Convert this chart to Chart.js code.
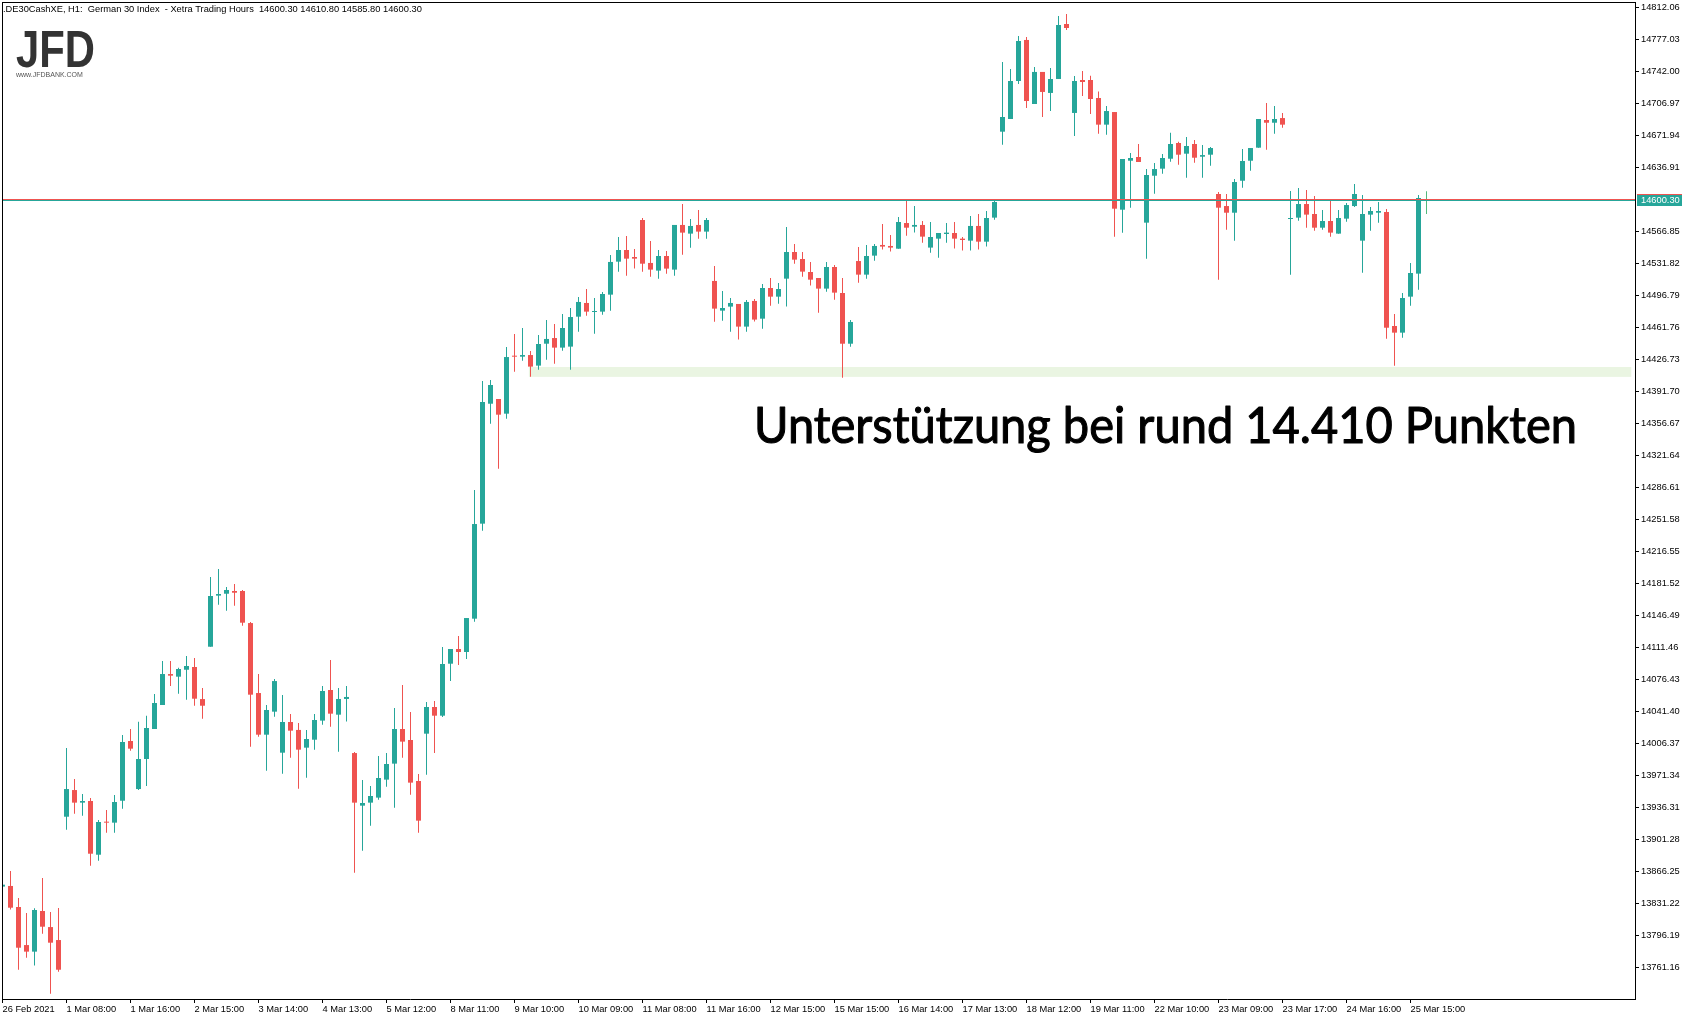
<!DOCTYPE html>
<html>
<head>
<meta charset="utf-8">
<script src="https://cdn.jsdelivr.net/npm/chart.js@4.4.1/dist/chart.umd.min.js"></script>
<style>
    html, body { margin: 0; padding: 0; background: #fff; }
    #wrap { width: 1693px; height: 1020px; }
</style>
</head>
<body>
<div id="wrap"><canvas id="chart" width="1693" height="1020"></canvas></div>
<script>
// DE30 H1 candles, 26 Feb - 25 Mar 2021
const opens = [
    13849.5, 13850.2, 13827.2, 13785.5, 13778.3, 13822.8, 13805.2, 13791.0, 13926.0, 13955.2,
    13941.4, 13943.2, 13884.4, 13920.2, 13919.5, 13943.5, 14008.9, 13956.3, 13989.2, 14022.0,
    14048.3, 14082.2, 14079.3, 14086.9, 14089.9, 14054.8, 14112.1, 14168.0, 14170.1, 14173.1,
    14173.1, 14138.0, 14061.4, 14015.8, 14041.0, 13996.1, 14029.7, 14021.0, 14001.6, 14010.3,
    14031.2, 14064.7, 14037.7, 14054.9, 13995.7, 13938.1, 13941.4, 13946.9, 13966.6, 13984.1,
    14022.0, 14010.0, 13965.1, 14016.9, 14046.1, 14036.6, 14093.5, 14109.6, 14106.3, 14142.8,
    14246.8, 14378.1, 14383.3, 14367.2, 14430.3, 14429.6, 14431.4, 14419.8, 14443.8, 14450.0,
    14439.5, 14440.6, 14473.4, 14488.4, 14478.5, 14478.9, 14497.5, 14533.6, 14546.4, 14538.7,
    14579.2, 14532.2, 14523.8, 14539.8, 14524.9, 14573.8, 14564.3, 14573.8, 14566.5, 14512.5,
    14480.0, 14484.4, 14487.3, 14462.5, 14490.6, 14471.2, 14504.8, 14495.3, 14515.0, 14544.2,
    14536.5, 14522.3, 14515.7, 14504.1, 14527.8, 14499.3, 14443.8, 14534.3, 14519.4, 14540.2,
    14551.9, 14550.8, 14547.8, 14575.9, 14571.9, 14573.8, 14549.0, 14558.8, 14563.9, 14565.0,
    14558.8, 14556.6, 14572.7, 14555.5, 14581.8, 14675.9, 14689.8, 14731.4, 14776.3, 14706.2,
    14741.3, 14718.3, 14733.6, 14793.8, 14696.4, 14732.5, 14732.5, 14712.8, 14683.6, 14697.4,
    14590.5, 14644.1, 14648.2, 14576.3, 14627.7, 14635.4, 14646.3, 14663.5, 14651.8, 14662.4,
    14648.5, 14650.7, 14607.7, 14594.5, 14587.2, 14622.2, 14644.1, 14658.4, 14688.7, 14685.7,
    14690.8, 14580.3, 14581.8, 14596.7, 14585.8, 14570.8, 14578.1, 14564.3, 14580.7, 14594.5,
    14556.6, 14585.1, 14587.2, 14588.0, 14463.2, 14455.9, 14495.3, 14520.5, 14600.3
];
const highs = [
    13853.0, 13866.6, 13837.0, 13820.6, 13825.7, 13858.9, 13821.7, 13826.0, 14001.2, 13967.3,
    13950.8, 13946.5, 13922.4, 13933.3, 13949.7, 14015.4, 14022.0, 14030.0, 14036.6, 14060.3,
    14096.4, 14096.4, 14089.1, 14101.9, 14099.7, 14066.9, 14188.4, 14197.1, 14177.4, 14180.7,
    14174.2, 14139.1, 14082.2, 14048.3, 14076.7, 14059.2, 14038.4, 14028.6, 14021.0, 14038.4,
    14069.1, 14097.6, 14066.9, 14069.1, 13996.9, 13966.2, 13959.6, 13992.5, 13995.7, 14045.0,
    14070.2, 14040.6, 13972.8, 14051.6, 14052.7, 14111.8, 14109.6, 14123.8, 14143.5, 14283.6,
    14402.9, 14404.1, 14383.3, 14440.2, 14454.4, 14461.0, 14435.8, 14453.3, 14469.7, 14465.4,
    14476.3, 14482.9, 14494.9, 14503.7, 14493.8, 14500.4, 14540.9, 14560.6, 14561.7, 14547.5,
    14581.4, 14556.2, 14546.4, 14545.3, 14573.8, 14596.7, 14580.3, 14590.2, 14581.4, 14528.9,
    14501.5, 14493.8, 14487.3, 14491.7, 14492.7, 14509.2, 14515.7, 14510.3, 14571.6, 14553.0,
    14544.2, 14533.3, 14515.7, 14533.3, 14530.0, 14515.7, 14469.7, 14549.7, 14551.9, 14553.0,
    14574.8, 14562.8, 14582.5, 14601.9, 14594.6, 14578.1, 14577.1, 14565.0, 14576.0, 14577.1,
    14560.6, 14583.6, 14585.8, 14589.1, 14600.0, 14752.2, 14744.5, 14780.7, 14779.6, 14746.7,
    14741.3, 14745.6, 14802.6, 14804.7, 14736.9, 14742.3, 14737.0, 14720.0, 14704.0, 14697.4,
    14646.0, 14652.5, 14662.4, 14635.0, 14641.6, 14651.4, 14674.8, 14664.9, 14670.0, 14666.8,
    14661.3, 14659.1, 14609.9, 14607.7, 14624.1, 14656.9, 14658.0, 14689.8, 14707.3, 14704.0,
    14696.3, 14610.9, 14614.2, 14612.0, 14605.5, 14590.2, 14600.0, 14590.2, 14597.8, 14618.6,
    14606.6, 14593.5, 14598.9, 14591.2, 14476.3, 14499.3, 14532.1, 14606.6, 14610.8
];
const lows = [
    13848.0, 13824.3, 13758.5, 13771.7, 13763.0, 13797.9, 13732.3, 13756.3, 13911.8, 13929.3,
    13927.1, 13872.4, 13877.9, 13908.5, 13908.5, 13934.8, 13998.3, 13955.2, 13959.6, 14022.0,
    14048.3, 14069.1, 14060.7, 14054.1, 14047.5, 14033.3, 14112.1, 14158.1, 14151.5, 14157.0,
    14135.1, 14002.7, 14013.6, 13976.4, 14035.5, 13973.1, 13990.6, 13956.7, 13968.7, 13999.4,
    14026.8, 14024.6, 13997.2, 14030.1, 13864.8, 13888.8, 13916.2, 13944.7, 13958.9, 13935.9,
    13990.6, 13950.1, 13908.5, 13972.0, 13995.8, 14035.2, 14074.6, 14092.1, 14098.6, 14139.5,
    14239.1, 14356.3, 14307.0, 14361.7, 14413.2, 14425.2, 14407.7, 14415.4, 14426.3, 14421.9,
    14436.2, 14415.4, 14457.0, 14474.5, 14454.8, 14475.6, 14480.0, 14522.7, 14518.3, 14526.0,
    14522.7, 14517.2, 14515.0, 14520.5, 14518.3, 14541.3, 14548.9, 14558.8, 14558.8, 14467.9,
    14469.0, 14457.0, 14448.3, 14457.0, 14468.0, 14460.3, 14485.4, 14487.6, 14484.4, 14531.4,
    14517.2, 14507.4, 14477.8, 14500.8, 14492.0, 14406.6, 14440.6, 14510.6, 14515.0, 14534.7,
    14546.8, 14544.6, 14547.8, 14562.1, 14565.4, 14554.4, 14543.5, 14538.0, 14554.4, 14547.9,
    14545.7, 14545.7, 14546.8, 14550.1, 14579.6, 14661.7, 14689.8, 14728.1, 14701.8, 14706.2,
    14692.0, 14698.6, 14733.6, 14787.2, 14671.2, 14715.0, 14695.2, 14673.7, 14672.6, 14560.9,
    14565.3, 14592.7, 14642.7, 14536.9, 14608.0, 14629.9, 14643.0, 14639.8, 14625.5, 14642.0,
    14625.5, 14638.7, 14513.9, 14568.6, 14556.6, 14614.6, 14633.2, 14658.4, 14656.2, 14673.7,
    14680.3, 14519.4, 14578.5, 14570.8, 14567.5, 14568.6, 14561.0, 14564.3, 14577.4, 14593.5,
    14521.6, 14567.5, 14576.3, 14449.3, 14419.8, 14450.4, 14485.4, 14503.0, 14585.8
];
const closes = [
    13851.6, 13826.4, 13782.6, 13778.3, 13823.9, 13805.6, 13788.1, 13758.5, 13956.3, 13941.4,
    13943.2, 13885.5, 13920.2, 13919.5, 13942.1, 14007.8, 14000.5, 13989.2, 14023.1, 14050.5,
    14082.2, 14080.4, 14087.7, 14091.0, 14055.2, 14047.5, 14167.6, 14169.8, 14174.2, 14171.2,
    14138.4, 14059.6, 14015.8, 14042.8, 14074.5, 14029.7, 14020.2, 13999.4, 14011.1, 14031.9,
    14063.6, 14038.8, 14054.9, 14057.1, 13941.4, 13941.0, 13948.7, 13968.4, 13983.7, 14022.0,
    14008.2, 13963.3, 13921.7, 14046.1, 14036.6, 14093.2, 14109.6, 14106.3, 14143.5, 14246.4,
    14380.0, 14398.6, 14366.1, 14429.2, 14429.6, 14431.4, 14418.7, 14443.5, 14449.0, 14439.5,
    14461.0, 14473.0, 14489.5, 14478.9, 14479.6, 14498.2, 14533.3, 14546.4, 14536.9, 14536.9,
    14531.4, 14524.9, 14539.8, 14526.0, 14573.8, 14565.4, 14572.7, 14566.5, 14579.2, 14482.2,
    14482.9, 14488.4, 14462.5, 14489.5, 14470.2, 14504.8, 14495.3, 14503.7, 14544.2, 14535.8,
    14522.7, 14513.9, 14504.1, 14527.8, 14499.7, 14443.8, 14467.6, 14519.4, 14539.8, 14550.8,
    14550.1, 14549.0, 14577.0, 14570.8, 14573.8, 14561.0, 14560.6, 14565.0, 14565.4, 14558.8,
    14557.3, 14572.7, 14555.5, 14581.4, 14598.9, 14692.0, 14731.4, 14775.2, 14709.5, 14741.3,
    14719.4, 14733.6, 14792.7, 14789.4, 14731.4, 14730.3, 14711.7, 14683.6, 14698.5, 14591.6,
    14646.0, 14647.1, 14642.7, 14628.5, 14635.0, 14647.1, 14662.4, 14650.7, 14660.2, 14647.4,
    14650.3, 14658.0, 14592.7, 14587.2, 14620.8, 14643.8, 14658.0, 14689.8, 14685.7, 14689.8,
    14683.6, 14581.4, 14596.7, 14585.1, 14570.8, 14578.1, 14565.4, 14581.4, 14595.6, 14607.7,
    14585.8, 14589.1, 14589.1, 14461.3, 14455.9, 14493.8, 14521.2, 14603.3, 14600.3
];

// one label every 8 bars
const xTickLabels = [
    '26 Feb 2021', '1 Mar 08:00', '1 Mar 16:00', '2 Mar 15:00', '3 Mar 14:00', '4 Mar 13:00',
    '5 Mar 12:00', '8 Mar 11:00', '9 Mar 10:00', '10 Mar 09:00', '11 Mar 08:00', '11 Mar 16:00',
    '12 Mar 15:00', '15 Mar 15:00', '16 Mar 14:00', '17 Mar 13:00', '18 Mar 12:00', '19 Mar 11:00',
    '22 Mar 10:00', '23 Mar 09:00', '23 Mar 17:00', '24 Mar 16:00', '25 Mar 15:00'
];
const yTicks = [
    13761.16, 13796.19, 13831.22, 13866.25, 13901.28, 13936.31, 13971.34, 14006.37, 14041.40,
    14076.43, 14111.46, 14146.49, 14181.52, 14216.55, 14251.58, 14286.61, 14321.64, 14356.67,
    14391.70, 14426.73, 14461.76, 14496.79, 14531.82, 14566.85, 14636.91, 14671.94, 14706.97,
    14742.00, 14777.03, 14812.06
];

const bidPrice = 14600.30;
const supportZone = [14407.5, 14418.3];
const supportBars = [65.8, 203.6];

const headerText = '.DE30CashXE, H1:  German 30 Index  - Xetra Trading Hours  14600.30 14610.80 14585.80 14600.30';
const noteText = 'Unterst\u00fctzung bei rund 14.410 Punkten';

const UP = '#26a69a';
const DOWN = '#ef5350';
const DOJI = '#52b97c';
const FAMILY = 'Liberation Sans, Arial, sans-serif';
const AXIS_FONT = { family: FAMILY, size: 9.3 };

function candleColor(i) {
    if (closes[i] === opens[i]) return DOJI;
    return closes[i] > opens[i] ? UP : DOWN;
}

const overlay = {
    id: 'overlay',
    beforeDatasetsDraw(chart) {
        const { ctx, scales: { x, y } } = chart;
        const x0 = x.getPixelForValue(supportBars[0]);
        const x1 = x.getPixelForValue(supportBars[1]);
        const yTop = y.getPixelForValue(supportZone[1]);
        const yBot = y.getPixelForValue(supportZone[0]);
        ctx.save();
        ctx.fillStyle = '#eaf5e2';
        ctx.fillRect(x0, yTop, x1 - x0, yBot - yTop);
        ctx.restore();
    },
    afterDatasetsDraw(chart) {
        const { ctx, chartArea: a, scales: { y } } = chart;
        const row = Math.floor(y.getPixelForValue(bidPrice));
        ctx.save();
        ctx.fillStyle = UP;
        ctx.fillRect(a.left, row, a.right - a.left, 1);
        ctx.fillStyle = DOWN;
        ctx.fillRect(a.left, row - 1, a.right - a.left, 1);
        ctx.restore();
    },
    afterDraw(chart) {
        const { ctx, chartArea: a, scales: { y } } = chart;
        ctx.save();
        // frame top + left
        ctx.fillStyle = '#000';
        ctx.fillRect(a.left, a.top, a.right - a.left, 1);
        ctx.fillRect(a.left, a.top, 1, a.bottom - a.top);

        // header line
        ctx.font = '9.3px ' + FAMILY;
        ctx.textBaseline = 'alphabetic';
        ctx.fillText(headerText, 3, 12);

        // JFD logo
        ctx.fillStyle = '#333';
        ctx.font = 'bold 52px ' + FAMILY;
        ctx.fillText('JFD', 16, 67, 79);
        ctx.fillStyle = '#555';
        ctx.font = '7px ' + FAMILY;
        ctx.fillText('www.JFDBANK.COM', 16, 77, 79);

        // note, slightly thickened to look like the medium weight of the original
        ctx.fillStyle = '#000';
        ctx.strokeStyle = '#000';
        ctx.lineWidth = 1.1;
        ctx.lineJoin = 'round';
        ctx.font = '50px Lato, sans-serif';
        const w = ctx.measureText(noteText).width;
        ctx.translate(754, 443);
        ctx.scale(823 / w, 1);
        ctx.fillText(noteText, 0, 0);
        ctx.strokeText(noteText, 0, 0);
        ctx.setTransform(1, 0, 0, 1, 0, 0);

        // current price box on the axis
        const py = Math.floor(y.getPixelForValue(bidPrice));
        ctx.fillStyle = DOWN;
        ctx.fillRect(a.right + 2, py - 6, 45, 1);
        ctx.fillStyle = UP;
        ctx.fillRect(a.right + 2, py - 5, 45, 11);
        ctx.fillStyle = '#fff';
        ctx.font = '9.3px ' + FAMILY;
        ctx.textBaseline = 'middle';
        ctx.fillText(bidPrice.toFixed(2), a.right + 6, py + 0.5);
        ctx.restore();
    }
};

const wicks = lows.map((l, i) => ({ x: i, y: [l, highs[i]] }));
const bodies = opens.map((o, i) => ({ x: i, y: [Math.min(o, closes[i]), Math.max(o, closes[i])] }));

new Chart(document.getElementById('chart'), {
    type: 'bar',
    data: {
        datasets: [
            {
                data: wicks,
                barThickness: 1,
                grouped: false,
                inflateAmount: 0,
                borderWidth: 0,
                backgroundColor: ctx => candleColor(ctx.dataIndex)
            },
            {
                data: bodies,
                barThickness: 5,
                minBarLength: 1,
                grouped: false,
                inflateAmount: 0,
                borderWidth: 0,
                backgroundColor: ctx => candleColor(ctx.dataIndex)
            }
        ]
    },
    options: {
        responsive: false,
        devicePixelRatio: 1,
        animation: false,
        layout: { padding: { left: 2, top: 2, right: 0, bottom: 0 } },
        plugins: { legend: { display: false }, tooltip: { enabled: false } },
        scales: {
            x: {
                type: 'linear',
                offset: false,
                min: -0.0625,
                max: 204.0625,
                bounds: 'data',
                afterBuildTicks: s => { s.ticks = xTickLabels.map((_, k) => ({ value: k * 8 })); },
                afterFit: s => { s.height = 21; s.paddingLeft = 0; s.paddingRight = 0; },
                ticks: {
                    autoSkip: false,
                    maxRotation: 0,
                    align: 'start',
                    padding: 1,
                    color: '#000',
                    font: AXIS_FONT,
                    callback: (v, idx) => xTickLabels[idx]
                },
                grid: { offset: false, drawOnChartArea: false, drawTicks: true, tickLength: 4, color: '#000' },
                border: { display: true, color: '#000' }
            },
            y: {
                type: 'linear',
                position: 'right',
                min: 13726.46,
                max: 14817.86,
                bounds: 'data',
                afterBuildTicks: s => { s.ticks = yTicks.map(v => ({ value: v })); },
                afterFit: s => { s.width = 58; s.paddingTop = 0; s.paddingBottom = 0; },
                ticks: {
                    autoSkip: false,
                    padding: 2,
                    color: '#000',
                    font: AXIS_FONT,
                    callback: v => v.toFixed(2)
                },
                grid: { drawOnChartArea: false, drawTicks: true, tickLength: 4, color: '#000' },
                border: { display: true, color: '#000' }
            }
        }
    },
    plugins: [overlay]
});
</script>
</body>
</html>
